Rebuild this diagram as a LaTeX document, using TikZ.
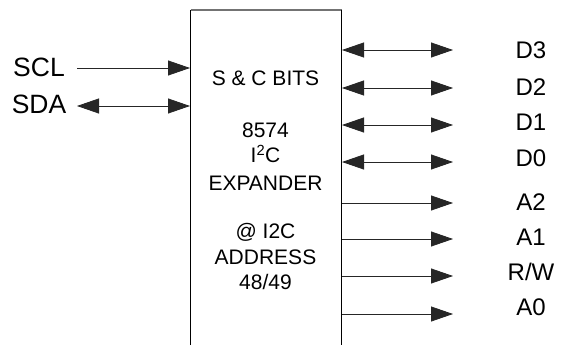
\documentclass[tikz,border=0pt]{standalone}
\usepackage{fontspec}
\setmainfont{Liberation Sans}
\usetikzlibrary{arrows.meta}
\begin{document}
\begin{tikzpicture}[x=1pt,y=-1pt,
  lbl/.style={inner sep=0pt,font=\fontsize{24}{28}\selectfont},
  llbl/.style={inner sep=0pt,font=\fontsize{26.5}{30}\selectfont},
  boxtxt/.style={inner sep=0pt,font=\fontsize{21}{25}\selectfont},
  sig/.style={line width=0.8pt,draw=black!85,-{Triangle[length=22pt,width=15pt]}},
  bisig/.style={line width=0.8pt,draw=black!85,{Triangle[length=22pt,width=15pt]}-{Triangle[length=22pt,width=15pt]}}]
\useasboundingbox (0,0) rectangle (561,345);
% block (open at bottom)
\coordinate (bl) at (190.5,345);
\coordinate (tl) at (190.5,10);
\coordinate (tr) at (341.5,10);
\coordinate (br) at (341.5,345);
\draw[line width=0.9pt] (bl) -- (tl);
\draw[line width=1.2pt,draw=black!55] (tl) -- (tr);
\draw[line width=0.9pt] (tr) -- (br);
% box texts
\node[boxtxt] (t1) at (265.5,78) {S \& C BITS};
\node[boxtxt] (t2) at (265.5,130) {8574};
\node[boxtxt] (t3) at (265.5,154) {I\textsuperscript{2}C};
\node[boxtxt] (t4) at (265.5,183) {EXPANDER};
\node[boxtxt] (t5) at (265.5,232) {@ I2C};
\node[boxtxt] (t6) at (265.5,257) {ADDRESS};
\node[boxtxt] (t7) at (265.5,282) {48/49};
% left signals
\node[llbl] (scl) at (39,67) {SCL};
\node[llbl] (sda) at (39,104) {SDA};
\coordinate (scls) at (77,68);
\coordinate (scle) at (190,68);
\coordinate (sdas) at (77,106);
\coordinate (sdae) at (190,106);
\draw[sig] (scls) -- (scle);
\draw[bisig] (sdas) -- (sdae);
% right signals
\foreach \nm/\txt/\ya/\yt/\st in {d3/D3/50/50/bisig, d2/D2/88/87/bisig, d1/D1/125/122/bisig, d0/D0/162/158/bisig,
  a2/A2/203/202/sig, a1/A1/239/237/sig, rw/R\slash W/276/272/sig, a0/A0/314/307/sig}{
  \node[lbl] (\nm) at (531,\yt) {\txt};
  \coordinate (\nm s) at (342,\ya);
  \coordinate (\nm e) at (453,\ya);
  \draw[\st] (\nm s) -- (\nm e);
}
\end{tikzpicture}
\end{document}
